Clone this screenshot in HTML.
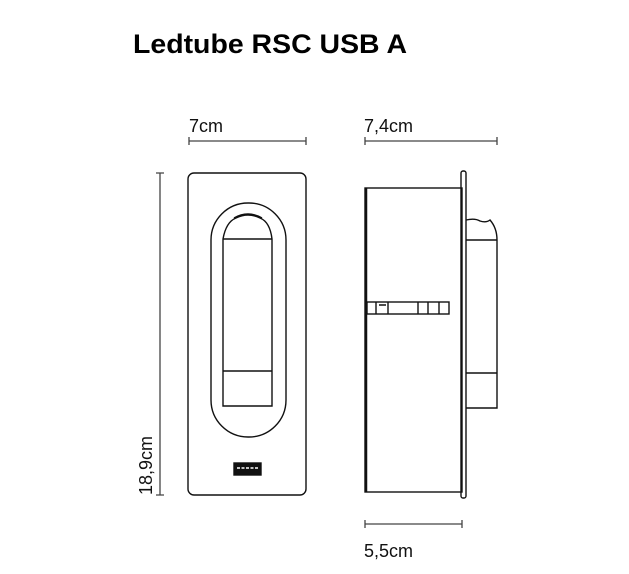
<!DOCTYPE html>
<html><head><meta charset="utf-8"><style>html,body{margin:0;padding:0;background:#fff}svg{display:block}</style></head><body>
<svg width="629" height="574" viewBox="0 0 629 574" xmlns="http://www.w3.org/2000/svg" font-family="Liberation Sans, sans-serif">
<text x="133" y="53" font-size="27" font-weight="bold" textLength="274" lengthAdjust="spacingAndGlyphs">Ledtube RSC USB A</text>
<g fill="#111" font-size="18">
<text x="189" y="132">7cm</text>
<text x="364" y="132">7,4cm</text>
<text x="364" y="557">5,5cm</text>
<text transform="translate(152,495) rotate(-90)">18,9cm</text>
</g>
<g stroke="#444" stroke-width="1.3" fill="none">
<path d="M189 141H306M189 137V145M306 137V145"/>
<path d="M365 141H497M365 137V145M497 137V145"/>
<path d="M365 524H462M365 520V528M462 520V528"/>
<path d="M160 173V495M156 173H164M156 495H164"/>
</g>
<g stroke="#111" stroke-width="1.4" fill="none">
<rect x="188" y="173" width="118" height="322" rx="6"/>
<rect x="211" y="203" width="75" height="234" rx="37"/>
<path d="M223 406V239Q226 222 236 218Q248 212 260 218Q270 222 272 239V406Z"/>
<path d="M223 239H272M223 371H272"/>
<path d="M234 218Q248 210 262 218"/>
<rect x="234" y="463" width="27" height="12" fill="#111"/>
<path d="M237 468H258" stroke="#fff" stroke-width="1.5" stroke-dasharray="3 1.5"/>
<rect x="365" y="188" width="97" height="304"/>
<path d="M366 188V492" stroke-width="2.5"/>
<rect x="461" y="171" width="5" height="327" rx="2"/>
<path d="M466 220Q475 218 480 221Q486 223 490 220Q497 228 497 240V408H466"/>
<path d="M466 240H497M466 373H497"/>
<rect x="367" y="302" width="82" height="12"/>
<path d="M376 302V314M388 302V314M379 305H386M418 302V314M428 302V314M439 302V314"/>
</g>
</svg>
</body></html>
